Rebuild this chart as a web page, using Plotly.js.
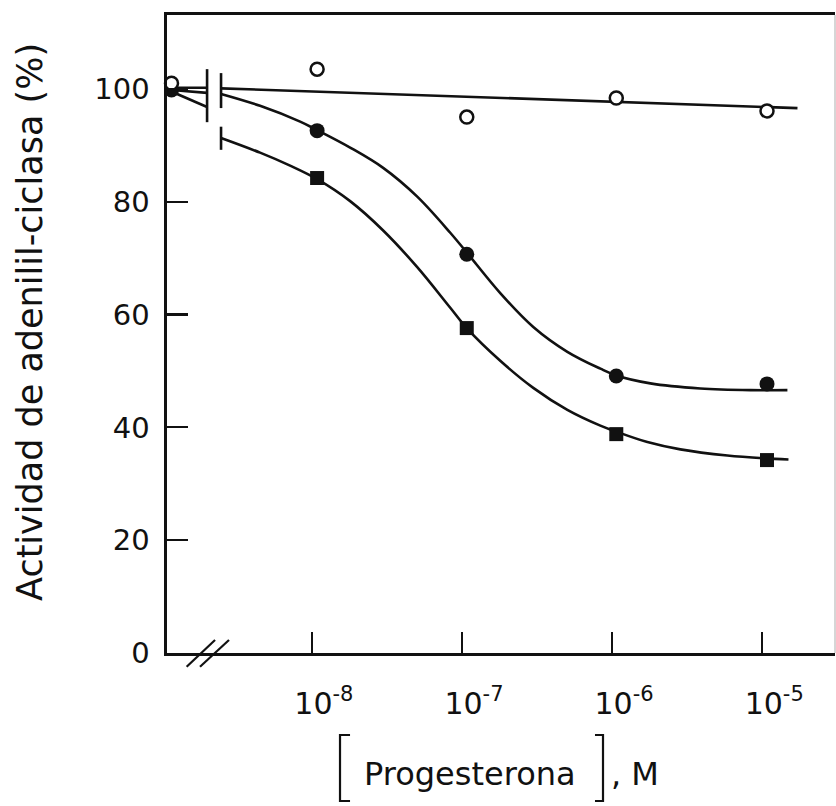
<!DOCTYPE html>
<html>
<head>
<meta charset="utf-8">
<script src="https://cdn.plot.ly/plotly-3.0.1.min.js"></script>
<style>
  html, body { margin: 0; padding: 0; background: #ffffff; }
  #chart { width: 836px; height: 806px; }
</style>
</head>
<body>
<div id="chart"></div>
<script>
// x positions are log10 of the progesterone concentration (M);
// the first entry is the control (no hormone), drawn just past the broken axis.
const doseLog = [-8.935, -7.965, -6.968, -5.972, -4.968];

// Measured adenylyl-cyclase activity (% of control)
const openVals   = [101.0, 103.5, 95.0, 98.4, 96.1];
const filledVals = [99.8, 92.6, 70.7, 49.1, 47.7];
const squareVals = [null, 84.2, 57.6, 38.8, 34.2];

// Hand-drawn fitted curves (null marks the axis break)
const openFitX = [-8.932, -8.698, null, -8.605, -4.765];
const openFitY = [100.2, 100.2, null, 100.1, 96.6];

const filledFitX = [-8.932, -8.698, null, -8.605, -8.345, -8.078, -7.965, -7.745, -7.525, -7.298,
                    -7.078, -6.965, -6.745, -6.525, -6.298, -6.078, -5.972, -5.745, -5.412,
                    -5.078, -4.832];
const filledFitY = [99.8, 99.3, null, 99.1, 97.0, 94.2, 92.7, 89.6, 86.0, 80.9,
                    74.5, 70.9, 63.8, 57.8, 53.4, 50.4, 49.2, 47.8, 46.9,
                    46.6, 46.6];

const squareFitX = [-8.932, -8.698, null, -8.605, -8.345, -8.145, -7.965, -7.745, -7.525, -7.298,
                    -7.078, -6.965, -6.745, -6.525, -6.298, -6.078, -5.978, -5.765, -5.545,
                    -5.232, -4.985, -4.825];
const squareFitY = [99.5, 96.8, null, 91.3, 88.7, 86.4, 84.0, 80.1, 74.9, 68.4,
                    61.2, 57.5, 51.8, 47.0, 43.1, 40.3, 39.3, 37.4, 36.1,
                    35.0, 34.5, 34.3];

// Break bars across the curves
const breakBarX = [-8.698, -8.698, null, -8.605, -8.605, null, -8.605, -8.605];
const breakBarY = [103.5, 94.1, null, 102.8, 96.6, null, 93.3, 89.2];

// Axis ticks
const xTickVals = [-8, -7, -6, -5];
const xTickText = ['10<sup>-8</sup>', '10<sup>-7</sup>', '10<sup>-6</sup>', '10<sup>-5</sup>'];
const yTickVals = [0, 20, 40, 60, 80, 100];

const ink = '#111111';
const FONT = 'DejaVu Sans, sans-serif';

const curveLine = { color: ink, width: 2.6, shape: 'spline', smoothing: 1 };

const traces = [
  { x: openFitX, y: openFitY, mode: 'lines', line: { color: ink, width: 2.6 }, hoverinfo: 'skip' },
  { x: filledFitX, y: filledFitY, mode: 'lines', line: curveLine, hoverinfo: 'skip' },
  { x: squareFitX, y: squareFitY, mode: 'lines', line: curveLine, hoverinfo: 'skip' },
  { x: breakBarX, y: breakBarY, mode: 'lines', line: { color: ink, width: 2.6 }, hoverinfo: 'skip' },
  { x: doseLog, y: squareVals, mode: 'markers', cliponaxis: false,
    marker: { symbol: 'square', size: 14, color: ink } },
  { x: doseLog, y: filledVals, mode: 'markers', cliponaxis: false,
    marker: { symbol: 'circle', size: 15, color: ink } },
  { x: doseLog, y: openVals, mode: 'markers', cliponaxis: false,
    marker: { symbol: 'circle', size: 13, color: '#ffffff', line: { color: ink, width: 2.5 } } }
];

// Bracket drawn around the x-axis label (paper coordinates)
function bracket(xv, xs, y0, y1) {
  return { type: 'path', xref: 'paper', yref: 'paper',
           path: `M ${xs} ${y0} L ${xv} ${y0} L ${xv} ${y1} L ${xs} ${y1}`,
           line: { color: ink, width: 2.2 } };
}

const layout = {
  width: 836, height: 806,
  margin: { l: 167, r: 1, t: 15, b: 153 },
  paper_bgcolor: '#ffffff', plot_bgcolor: '#ffffff',
  showlegend: false,
  font: { family: FONT, color: ink },
  xaxis: {
    range: [-8.965, -4.515],
    tickvals: xTickVals, ticktext: xTickText,
    ticks: 'inside', ticklen: 21, tickwidth: 2.2, tickcolor: ink,
    ticklabelshift: 12, ticklabelstandoff: 22,
    tickfont: { family: FONT, size: 30, color: ink },
    showline: true, linecolor: ink, linewidth: 2.6, mirror: true,
    showgrid: false, zeroline: false
  },
  yaxis: {
    range: [0, 113.1],
    tickvals: yTickVals,
    ticks: 'inside', ticklen: 21, tickwidth: 2.2, tickcolor: ink,
    ticklabelstandoff: 9,
    tickfont: { family: FONT, size: 29, color: ink },
    showline: true, linecolor: ink, linewidth: 2.6,
    showgrid: false, zeroline: false
  },
  shapes: [
    // right edge of the frame
    { type: 'line', xref: 'paper', yref: 'paper', x0: 1, x1: 1, y0: 0, y1: 1,
      line: { color: '#c8c8c8', width: 1.5 } },
    // axis-break slashes on the x axis
    { type: 'line', xref: 'x', yref: 'paper', x0: -8.834, x1: -8.645, y0: -0.0215, y1: 0.0204,
      line: { color: ink, width: 2.2 } },
    { type: 'line', xref: 'x', yref: 'paper', x0: -8.745, x1: -8.552, y0: -0.0215, y1: 0.0204,
      line: { color: ink, width: 2.2 } },
    bracket(0.259, 0.274, -0.1285, -0.232),
    bracket(0.6527, 0.6407, -0.1285, -0.232)
  ],
  annotations: [
    { text: 'Actividad de adenilil-ciclasa (%)', textangle: -90,
      xref: 'paper', yref: 'paper', x: -0.205, y: 0.519,
      xanchor: 'center', yanchor: 'middle', showarrow: false,
      font: { family: FONT, size: 35, color: ink } },
    { text: 'Progesterona', xref: 'paper', yref: 'paper', x: 0.4536, y: -0.1897,
      xanchor: 'center', yanchor: 'middle', showarrow: false,
      font: { family: FONT, size: 32, color: ink } },
    { text: ', M', xref: 'paper', yref: 'paper', x: 0.6617, y: -0.1897,
      xanchor: 'left', yanchor: 'middle', showarrow: false,
      font: { family: FONT, size: 32, color: ink } }
  ]
};

Plotly.newPlot('chart', traces, layout, { displayModeBar: false, staticPlot: true });
</script>
</body>
</html>
